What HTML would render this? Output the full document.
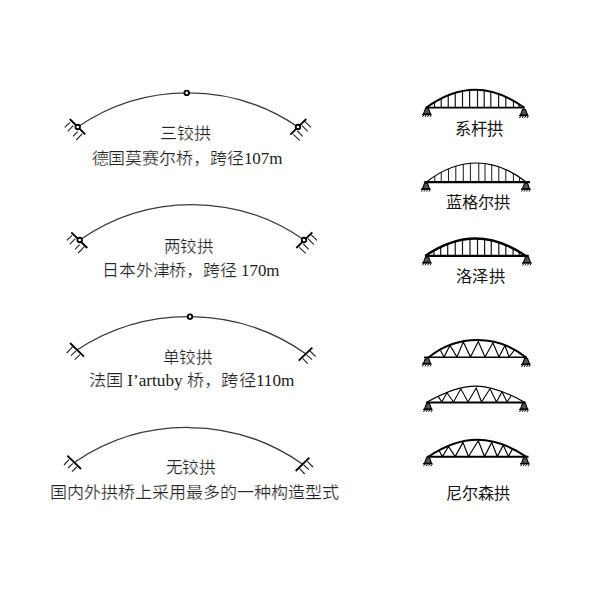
<!DOCTYPE html>
<html lang="zh-CN"><head><meta charset="utf-8"><style>
html,body{margin:0;padding:0;background:#fff;width:600px;height:600px;overflow:hidden}
svg{display:block}
text{font-family:"Liberation Serif",serif;fill:#242424;stroke:#fff;stroke-width:0.22}
tspan.l{fill:#1a1a1a;stroke:none}
text.r{fill:#151515;stroke:none}
</style></head><body>
<svg width="600" height="600" viewBox="0 0 600 600">
<rect width="600" height="600" fill="#fff"/>
<path d="M77.7,127 A194.94,194.94 0 0,1 298,127" fill="none" stroke="#3a3a3a" stroke-width="1.25"/>
<line x1="69.7" y1="119" x2="85.3" y2="134.3" stroke="#000" stroke-width="1.8" stroke-linecap="butt"/>
<line x1="70" y1="122.3" x2="64.7" y2="127.3" stroke="#222" stroke-width="1.1" stroke-linecap="butt"/>
<line x1="73.3" y1="125.7" x2="67.7" y2="131.3" stroke="#222" stroke-width="1.1" stroke-linecap="butt"/>
<line x1="77.7" y1="131.7" x2="73" y2="136.3" stroke="#222" stroke-width="1.1" stroke-linecap="butt"/>
<line x1="82.3" y1="133.7" x2="76.3" y2="140" stroke="#222" stroke-width="1.1" stroke-linecap="butt"/>
<line x1="290.3" y1="134.7" x2="306.3" y2="119" stroke="#000" stroke-width="1.8" stroke-linecap="butt"/>
<line x1="305" y1="121.7" x2="311" y2="127.3" stroke="#222" stroke-width="1.1" stroke-linecap="butt"/>
<line x1="302" y1="125.7" x2="307.7" y2="131.3" stroke="#222" stroke-width="1.1" stroke-linecap="butt"/>
<line x1="297.3" y1="131" x2="302.7" y2="136.3" stroke="#222" stroke-width="1.1" stroke-linecap="butt"/>
<line x1="293.3" y1="134.3" x2="299.7" y2="140.3" stroke="#222" stroke-width="1.1" stroke-linecap="butt"/>
<circle cx="77.7" cy="127" r="2.25" fill="#fff" stroke="#000" stroke-width="1.8"/>
<circle cx="298" cy="127" r="2.25" fill="#fff" stroke="#000" stroke-width="1.8"/>
<circle cx="186.7" cy="92.9" r="2.25" fill="#fff" stroke="#000" stroke-width="1.8"/>
<path d="M79.7,240 A194.90,194.90 0 0,1 304,240" fill="none" stroke="#3a3a3a" stroke-width="1.25"/>
<line x1="71.3" y1="232.3" x2="87.3" y2="248" stroke="#000" stroke-width="1.8" stroke-linecap="butt"/>
<line x1="72.0" y1="235.3" x2="66.7" y2="240.3" stroke="#222" stroke-width="1.1" stroke-linecap="butt"/>
<line x1="75.3" y1="238.7" x2="69.7" y2="244.3" stroke="#222" stroke-width="1.1" stroke-linecap="butt"/>
<line x1="79.7" y1="244.7" x2="75.0" y2="249.3" stroke="#222" stroke-width="1.1" stroke-linecap="butt"/>
<line x1="84.3" y1="246.7" x2="78.3" y2="253" stroke="#222" stroke-width="1.1" stroke-linecap="butt"/>
<line x1="296.3" y1="248" x2="312.3" y2="232.3" stroke="#000" stroke-width="1.8" stroke-linecap="butt"/>
<line x1="311" y1="234.7" x2="317" y2="240.3" stroke="#222" stroke-width="1.1" stroke-linecap="butt"/>
<line x1="308" y1="238.7" x2="313.7" y2="244.3" stroke="#222" stroke-width="1.1" stroke-linecap="butt"/>
<line x1="303.3" y1="244" x2="308.7" y2="249.3" stroke="#222" stroke-width="1.1" stroke-linecap="butt"/>
<line x1="299.3" y1="247.3" x2="305.7" y2="253.3" stroke="#222" stroke-width="1.1" stroke-linecap="butt"/>
<circle cx="79.7" cy="240" r="2.25" fill="#fff" stroke="#000" stroke-width="1.8"/>
<circle cx="304" cy="240" r="2.25" fill="#fff" stroke="#000" stroke-width="1.8"/>
<path d="M77,350 A203.71,203.71 0 0,1 305.7,353.7" fill="none" stroke="#3a3a3a" stroke-width="1.25"/>
<line x1="70" y1="343" x2="84" y2="356.7" stroke="#000" stroke-width="1.8" stroke-linecap="butt"/>
<line x1="72.7" y1="346.7" x2="66.7" y2="353" stroke="#222" stroke-width="1.1" stroke-linecap="butt"/>
<line x1="76.3" y1="350.7" x2="71" y2="355.7" stroke="#222" stroke-width="1.1" stroke-linecap="butt"/>
<line x1="80" y1="354.7" x2="74.7" y2="359.7" stroke="#222" stroke-width="1.1" stroke-linecap="butt"/>
<line x1="298.7" y1="360.7" x2="312.3" y2="347.7" stroke="#000" stroke-width="1.8" stroke-linecap="butt"/>
<line x1="310" y1="351" x2="315.7" y2="356.7" stroke="#222" stroke-width="1.1" stroke-linecap="butt"/>
<line x1="306.3" y1="354.7" x2="312" y2="359.7" stroke="#222" stroke-width="1.1" stroke-linecap="butt"/>
<line x1="302.7" y1="358.3" x2="307.7" y2="363.7" stroke="#222" stroke-width="1.1" stroke-linecap="butt"/>
<circle cx="190" cy="316.7" r="2.25" fill="#fff" stroke="#000" stroke-width="1.8"/>
<path d="M75,462 A199.71,199.71 0 0,1 302.3,464" fill="none" stroke="#3a3a3a" stroke-width="1.25"/>
<line x1="67.3" y1="455.7" x2="81" y2="469" stroke="#000" stroke-width="1.8" stroke-linecap="butt"/>
<line x1="69" y1="459.7" x2="64" y2="465" stroke="#222" stroke-width="1.1" stroke-linecap="butt"/>
<line x1="73" y1="463.3" x2="68" y2="468" stroke="#222" stroke-width="1.1" stroke-linecap="butt"/>
<line x1="76.7" y1="467" x2="72" y2="471.7" stroke="#222" stroke-width="1.1" stroke-linecap="butt"/>
<line x1="295.7" y1="471" x2="309.3" y2="457.7" stroke="#000" stroke-width="1.8" stroke-linecap="butt"/>
<line x1="307.3" y1="461.3" x2="313" y2="467" stroke="#222" stroke-width="1.1" stroke-linecap="butt"/>
<line x1="303.7" y1="465" x2="309" y2="469.7" stroke="#222" stroke-width="1.1" stroke-linecap="butt"/>
<line x1="299.7" y1="468.7" x2="304.7" y2="474" stroke="#222" stroke-width="1.1" stroke-linecap="butt"/>
<line x1="434.5" y1="102.14" x2="434.5" y2="107.7" stroke="#151515" stroke-width="1.2" stroke-linecap="butt"/>
<line x1="441.25" y1="98.39" x2="441.25" y2="107.7" stroke="#151515" stroke-width="1.2" stroke-linecap="butt"/>
<line x1="448.25" y1="95.19" x2="448.25" y2="107.7" stroke="#151515" stroke-width="1.2" stroke-linecap="butt"/>
<line x1="455.25" y1="92.72" x2="455.25" y2="107.7" stroke="#151515" stroke-width="1.2" stroke-linecap="butt"/>
<line x1="462.5" y1="90.93" x2="462.5" y2="107.7" stroke="#151515" stroke-width="1.2" stroke-linecap="butt"/>
<line x1="469.6" y1="89.94" x2="469.6" y2="107.7" stroke="#151515" stroke-width="1.2" stroke-linecap="butt"/>
<line x1="477.5" y1="89.74" x2="477.5" y2="107.7" stroke="#151515" stroke-width="1.2" stroke-linecap="butt"/>
<line x1="484.2" y1="90.31" x2="484.2" y2="107.7" stroke="#151515" stroke-width="1.2" stroke-linecap="butt"/>
<line x1="490.8" y1="91.53" x2="490.8" y2="107.7" stroke="#151515" stroke-width="1.2" stroke-linecap="butt"/>
<line x1="498.6" y1="93.81" x2="498.6" y2="107.7" stroke="#151515" stroke-width="1.2" stroke-linecap="butt"/>
<line x1="505.8" y1="96.72" x2="505.8" y2="107.7" stroke="#151515" stroke-width="1.2" stroke-linecap="butt"/>
<line x1="513.5" y1="100.67" x2="513.5" y2="107.7" stroke="#151515" stroke-width="1.2" stroke-linecap="butt"/>
<line x1="519" y1="104.01" x2="519" y2="107.7" stroke="#151515" stroke-width="1.2" stroke-linecap="butt"/>
<path d="M426.1,107.7 C459.40,83.70 491.10,83.70 524.4,107.7" fill="none" stroke="#000" stroke-width="2.0"/>
<line x1="425.5" y1="107.7" x2="525" y2="107.7" stroke="#000" stroke-width="1.8" stroke-linecap="butt"/>
<g stroke="#000" fill="none"><path d="M425.5,108.5 L428.5,108.5 L430.5,114.0 L423.5,114.0 Z" fill="#555" stroke-width="1.1"/><line x1="422" y1="114.5" x2="431.5" y2="114.5" stroke-width="1.4"/><path d="M422.5,117.0 l1.2,-2 M425,117.0 l1.2,-2 M427.5,117.0 l1.2,-2 M430,117.0 l1.2,-2" stroke-width="0.9"/></g>
<g stroke="#000" fill="none"><path d="M522.5,109.5 L525.5,109.5 L527.5,115.0 L520.5,115.0 Z" fill="#555" stroke-width="1.1"/><line x1="519" y1="115.5" x2="528.5" y2="115.5" stroke-width="1.4"/><path d="M519.5,118.0 l1.2,-2 M522,118.0 l1.2,-2 M524.5,118.0 l1.2,-2 M527,118.0 l1.2,-2" stroke-width="0.9"/></g>
<line x1="434.8" y1="176.05" x2="434.8" y2="182.2" stroke="#222" stroke-width="1.05" stroke-linecap="butt"/>
<line x1="441.25" y1="172.25" x2="441.25" y2="182.2" stroke="#222" stroke-width="1.05" stroke-linecap="butt"/>
<line x1="448.5" y1="168.79" x2="448.5" y2="182.2" stroke="#222" stroke-width="1.05" stroke-linecap="butt"/>
<line x1="455.8" y1="166.14" x2="455.8" y2="182.2" stroke="#222" stroke-width="1.05" stroke-linecap="butt"/>
<line x1="463.3" y1="164.26" x2="463.3" y2="182.2" stroke="#222" stroke-width="1.05" stroke-linecap="butt"/>
<line x1="470.4" y1="163.26" x2="470.4" y2="182.2" stroke="#222" stroke-width="1.05" stroke-linecap="butt"/>
<line x1="478.75" y1="163.04" x2="478.75" y2="182.2" stroke="#222" stroke-width="1.05" stroke-linecap="butt"/>
<line x1="485" y1="163.56" x2="485" y2="182.2" stroke="#222" stroke-width="1.05" stroke-linecap="butt"/>
<line x1="491.7" y1="164.77" x2="491.7" y2="182.2" stroke="#222" stroke-width="1.05" stroke-linecap="butt"/>
<line x1="498.8" y1="166.78" x2="498.8" y2="182.2" stroke="#222" stroke-width="1.05" stroke-linecap="butt"/>
<line x1="505.8" y1="169.53" x2="505.8" y2="182.2" stroke="#222" stroke-width="1.05" stroke-linecap="butt"/>
<line x1="513.4" y1="173.39" x2="513.4" y2="182.2" stroke="#222" stroke-width="1.05" stroke-linecap="butt"/>
<line x1="519.5" y1="177.16" x2="519.5" y2="182.2" stroke="#222" stroke-width="1.05" stroke-linecap="butt"/>
<path d="M426.2,182.2 C458.60,156.60 494.00,156.60 526.4,182.2" fill="none" stroke="#000" stroke-width="1.2"/>
<line x1="424.3" y1="182.2" x2="530" y2="182.2" stroke="#000" stroke-width="2.2" stroke-linecap="butt"/>
<g stroke="#000" fill="none"><path d="M424.5,183.2 L427.5,183.2 L429.5,188.7 L422.5,188.7 Z" fill="#555" stroke-width="1.1"/><line x1="421" y1="189.2" x2="430.5" y2="189.2" stroke-width="1.4"/><path d="M421.5,191.7 l1.2,-2 M424,191.7 l1.2,-2 M426.5,191.7 l1.2,-2 M429,191.7 l1.2,-2" stroke-width="0.9"/></g>
<g stroke="#000" fill="none"><path d="M524.5,183.2 L527.5,183.2 L529.5,188.7 L522.5,188.7 Z" fill="#555" stroke-width="1.1"/><line x1="521" y1="189.2" x2="530.5" y2="189.2" stroke-width="1.4"/><path d="M521.5,191.7 l1.2,-2 M524,191.7 l1.2,-2 M526.5,191.7 l1.2,-2 M529,191.7 l1.2,-2" stroke-width="0.9"/></g>
<line x1="434" y1="250.42" x2="434" y2="255.9" stroke="#151515" stroke-width="1.2" stroke-linecap="butt"/>
<line x1="440.7" y1="246.91" x2="440.7" y2="255.9" stroke="#151515" stroke-width="1.2" stroke-linecap="butt"/>
<line x1="447.7" y1="243.89" x2="447.7" y2="255.9" stroke="#151515" stroke-width="1.2" stroke-linecap="butt"/>
<line x1="455.25" y1="241.37" x2="455.25" y2="255.9" stroke="#151515" stroke-width="1.2" stroke-linecap="butt"/>
<line x1="462.5" y1="239.68" x2="462.5" y2="255.9" stroke="#151515" stroke-width="1.2" stroke-linecap="butt"/>
<line x1="470" y1="238.71" x2="470" y2="255.9" stroke="#151515" stroke-width="1.2" stroke-linecap="butt"/>
<line x1="477.5" y1="238.53" x2="477.5" y2="255.9" stroke="#151515" stroke-width="1.2" stroke-linecap="butt"/>
<line x1="484.6" y1="239.08" x2="484.6" y2="255.9" stroke="#151515" stroke-width="1.2" stroke-linecap="butt"/>
<line x1="491.25" y1="240.24" x2="491.25" y2="255.9" stroke="#151515" stroke-width="1.2" stroke-linecap="butt"/>
<line x1="498.8" y1="242.29" x2="498.8" y2="255.9" stroke="#151515" stroke-width="1.2" stroke-linecap="butt"/>
<line x1="505.8" y1="244.89" x2="505.8" y2="255.9" stroke="#151515" stroke-width="1.2" stroke-linecap="butt"/>
<line x1="513.1" y1="248.31" x2="513.1" y2="255.9" stroke="#151515" stroke-width="1.2" stroke-linecap="butt"/>
<line x1="519.2" y1="251.7" x2="519.2" y2="255.9" stroke="#151515" stroke-width="1.2" stroke-linecap="butt"/>
<path d="M425.2,255.9 C459.40,232.70 491.60,232.70 525.8,255.9" fill="none" stroke="#000" stroke-width="2.3"/>
<line x1="425" y1="255.9" x2="528.8" y2="255.9" stroke="#000" stroke-width="2.1" stroke-linecap="butt"/>
<g stroke="#000" fill="none"><path d="M425.5,256.9 L428.5,256.9 L430.5,262.4 L423.5,262.4 Z" fill="#555" stroke-width="1.1"/><line x1="422" y1="262.9" x2="431.5" y2="262.9" stroke-width="1.4"/><path d="M422.5,265.4 l1.2,-2 M425,265.4 l1.2,-2 M427.5,265.4 l1.2,-2 M430,265.4 l1.2,-2" stroke-width="0.9"/></g>
<g stroke="#000" fill="none"><path d="M525.5,257 L528.5,257 L530.5,262.5 L523.5,262.5 Z" fill="#555" stroke-width="1.1"/><line x1="522" y1="263" x2="531.5" y2="263" stroke-width="1.4"/><path d="M522.5,265.5 l1.2,-2 M525,265.5 l1.2,-2 M527.5,265.5 l1.2,-2 M530,265.5 l1.2,-2" stroke-width="0.9"/></g>
<path d="M440.5,350.5 L444,357 L450,345.5 L457,357 L463.3,341.9 L470.5,357 L478.3,341.5 L485,357 L492.9,342.75 L499,357 L505,345.5 L509,357 L514.5,350" fill="none" stroke="#000" stroke-width="1.15" stroke-linejoin="miter"/>
<path d="M428.75,357.25 C457.55,334.25 497.10,334.25 525.9,357.25" fill="none" stroke="#000" stroke-width="2.0"/>
<line x1="424" y1="357.25" x2="527" y2="357.25" stroke="#000" stroke-width="1.4" stroke-linecap="butt"/>
<g stroke="#000" fill="none"><path d="M425.5,358 L428.5,358 L430.5,363.5 L423.5,363.5 Z" fill="#555" stroke-width="1.1"/><line x1="422" y1="364" x2="431.5" y2="364" stroke-width="1.4"/><path d="M422.5,366.5 l1.2,-2 M425,366.5 l1.2,-2 M427.5,366.5 l1.2,-2 M430,366.5 l1.2,-2" stroke-width="0.9"/></g>
<g stroke="#000" fill="none"><path d="M524.5,358.5 L527.5,358.5 L529.5,364.0 L522.5,364.0 Z" fill="#555" stroke-width="1.1"/><line x1="521" y1="364.5" x2="530.5" y2="364.5" stroke-width="1.4"/><path d="M521.5,367.0 l1.2,-2 M524,367.0 l1.2,-2 M526.5,367.0 l1.2,-2 M529,367.0 l1.2,-2" stroke-width="0.9"/></g>
<path d="M438.3,396.6 L441.8,402 L447,392.8 L453.5,402 L460.8,388.8 L468,402 L476.25,388 L481.5,402 L490,388.8 L496.5,402 L502,391.75 L507,402 L511.3,395.5" fill="none" stroke="#000" stroke-width="1.1" stroke-linejoin="miter"/>
<path d="M426.2,402.5 C465.10,380.63 486.15,380.63 525.05,402.5" fill="none" stroke="#000" stroke-width="1.15"/>
<line x1="426.5" y1="402.5" x2="525.6" y2="402.5" stroke="#000" stroke-width="2.1" stroke-linecap="butt"/>
<g stroke="#000" fill="none"><path d="M426.5,403.5 L429.5,403.5 L431.5,409.0 L424.5,409.0 Z" fill="#555" stroke-width="1.1"/><line x1="423" y1="409.5" x2="432.5" y2="409.5" stroke-width="1.4"/><path d="M423.5,412.0 l1.2,-2 M426,412.0 l1.2,-2 M428.5,412.0 l1.2,-2 M431,412.0 l1.2,-2" stroke-width="0.9"/></g>
<g stroke="#000" fill="none"><path d="M522.5,403.5 L525.5,403.5 L527.5,409.0 L520.5,409.0 Z" fill="#555" stroke-width="1.1"/><line x1="519" y1="409.5" x2="528.5" y2="409.5" stroke-width="1.4"/><path d="M519.5,412.0 l1.2,-2 M522,412.0 l1.2,-2 M524.5,412.0 l1.2,-2 M527,412.0 l1.2,-2" stroke-width="0.9"/></g>
<path d="M438.9,450.3 L442.4,456.5 L448.5,446.5 L455.25,456.5 L462.9,442.4 L468.5,456.5 L478.3,440.75 L484.5,456.5 L491.7,442.4 L497.3,456.5 L503.2,445.1 L508.4,456.5 L512.5,448.9" fill="none" stroke="#000" stroke-width="1.2" stroke-linejoin="miter"/>
<path d="M428.4,456.75 C461.90,434.15 492.80,434.15 526.3,456.75" fill="none" stroke="#000" stroke-width="2.0"/>
<line x1="426.7" y1="456.75" x2="528.5" y2="456.75" stroke="#000" stroke-width="2.1" stroke-linecap="butt"/>
<g stroke="#000" fill="none"><path d="M426.5,457.7 L429.5,457.7 L431.5,463.2 L424.5,463.2 Z" fill="#555" stroke-width="1.1"/><line x1="423" y1="463.7" x2="432.5" y2="463.7" stroke-width="1.4"/><path d="M423.5,466.2 l1.2,-2 M426,466.2 l1.2,-2 M428.5,466.2 l1.2,-2 M431,466.2 l1.2,-2" stroke-width="0.9"/></g>
<g stroke="#000" fill="none"><path d="M523.5,457.7 L526.5,457.7 L528.5,463.2 L521.5,463.2 Z" fill="#555" stroke-width="1.1"/><line x1="520" y1="463.7" x2="529.5" y2="463.7" stroke-width="1.4"/><path d="M520.5,466.2 l1.2,-2 M523,466.2 l1.2,-2 M525.5,466.2 l1.2,-2 M528,466.2 l1.2,-2" stroke-width="0.9"/></g>
<text x="160" y="139" textLength="51" lengthAdjust="spacingAndGlyphs" font-size="16">三铰拱</text>
<text x="91.5" y="163.5" textLength="191" lengthAdjust="spacingAndGlyphs" font-size="16">德国莫赛尔桥，跨径<tspan class="l">107m</tspan></text>
<text x="163.5" y="251.5" textLength="49.5" lengthAdjust="spacingAndGlyphs" font-size="16">两铰拱</text>
<text x="102" y="276" textLength="177.5" lengthAdjust="spacingAndGlyphs" font-size="16">日本外津桥，跨径 <tspan class="l">170m</tspan></text>
<text x="162.5" y="362.5" textLength="49.5" lengthAdjust="spacingAndGlyphs" font-size="16">单铰拱</text>
<text x="88.5" y="385.5" textLength="206" lengthAdjust="spacingAndGlyphs" font-size="16">法国 <tspan class="l">I’artuby</tspan> 桥，跨径<tspan class="l">110m</tspan></text>
<text x="165.5" y="473" textLength="50" lengthAdjust="spacingAndGlyphs" font-size="16">无铰拱</text>
<text x="49.5" y="498" textLength="290" lengthAdjust="spacingAndGlyphs" font-size="16">国内外拱桥上采用最多的一种构造型式</text>
<text x="454.5" y="134.5" textLength="49" lengthAdjust="spacingAndGlyphs" font-size="17" class="r">系杆拱</text>
<text x="445.5" y="208" textLength="65" lengthAdjust="spacingAndGlyphs" font-size="16" class="r">蓝格尔拱</text>
<text x="456" y="282" textLength="49" lengthAdjust="spacingAndGlyphs" font-size="16" class="r">洛泽拱</text>
<text x="445.5" y="498.5" textLength="64.5" lengthAdjust="spacingAndGlyphs" font-size="16" class="r">尼尔森拱</text>
</svg>
</body></html>
